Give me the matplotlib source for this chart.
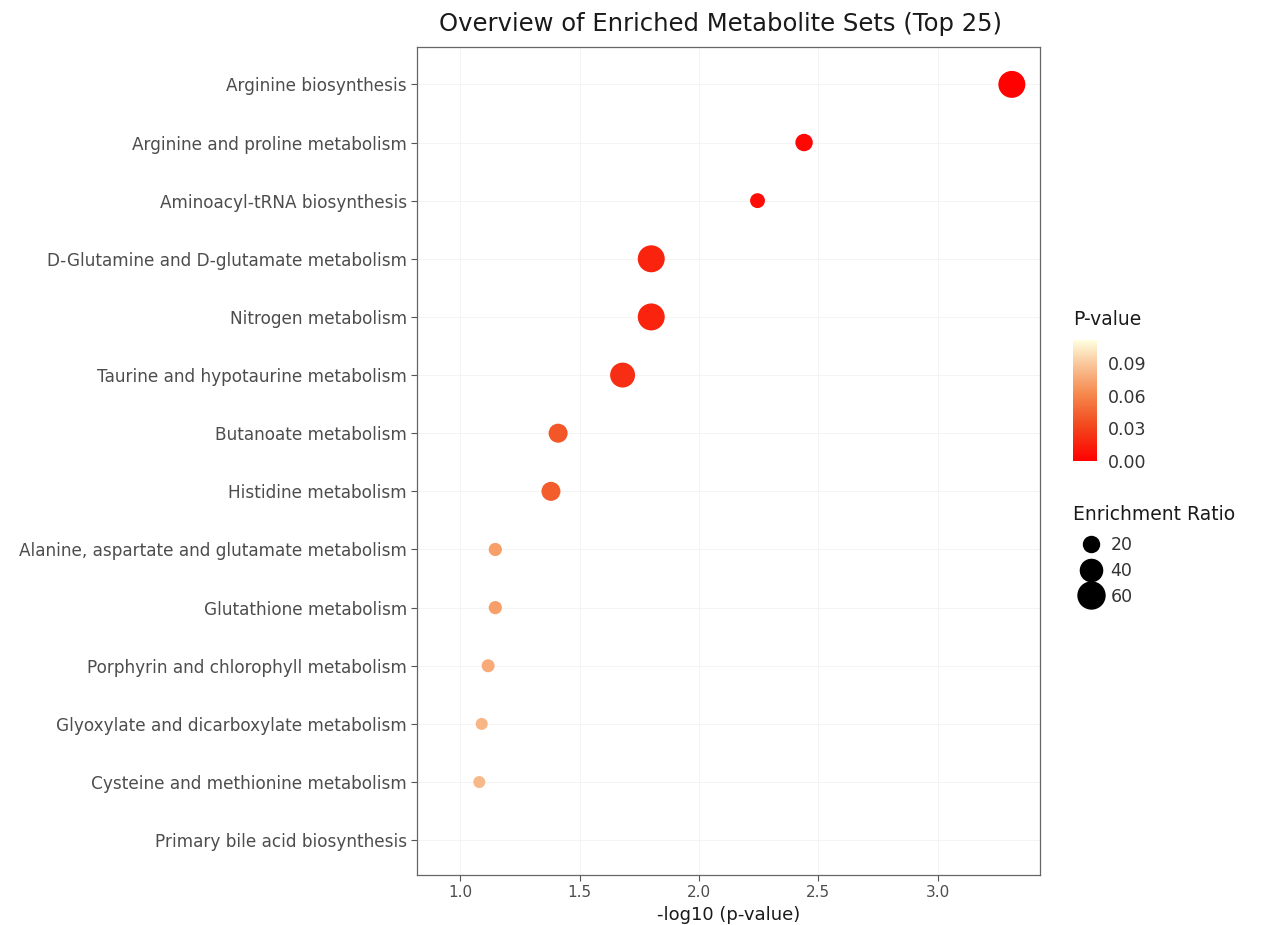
import numpy as np
import matplotlib
matplotlib.use("Agg")
import matplotlib.pyplot as plt
from matplotlib.colors import LinearSegmentedColormap, Normalize
from matplotlib.lines import Line2D

# pathways, top to bottom
pathways = [
    "Arginine biosynthesis",
    "Arginine and proline metabolism",
    "Aminoacyl-tRNA biosynthesis",
    "D-Glutamine and D-glutamate metabolism",
    "Nitrogen metabolism",
    "Taurine and hypotaurine metabolism",
    "Butanoate metabolism",
    "Histidine metabolism",
    "Alanine, aspartate and glutamate metabolism",
    "Glutathione metabolism",
    "Porphyrin and chlorophyll metabolism",
    "Glyoxylate and dicarboxylate metabolism",
    "Cysteine and methionine metabolism",
    "Primary bile acid biosynthesis",
]
# last row has no visible point in the original
neg_log_p = [3.31, 2.44, 2.245, 1.80, 1.80, 1.68, 1.41, 1.38,
             1.147, 1.147, 1.117, 1.09, 1.08, np.nan]
enrich_ratio = [60, 24, 17, 60, 60, 51, 29, 29, 13, 13, 12.6, 10.5, 10.5, np.nan]

pvals = 10 ** (-np.array(neg_log_p))
size_breaks = [20, 40, 60]
cbar_ticks = [0.00, 0.03, 0.06, 0.09]

def msize(v):
    return 11 + 6.1 * np.asarray(v, dtype=float)

cmap = LinearSegmentedColormap.from_list(
    "pv", [(0, "#FF0000"), (0.3, "#F24A1E"), (0.55, "#F6874C"),
           (0.8, "#F9C69A"), (1, "#FFFFE0")])
norm = Normalize(vmin=0, vmax=0.111)

fig = plt.figure(figsize=(12.72, 9.25), dpi=100)
ax = fig.add_axes([0.328, 0.054, 0.490, 0.895])

y = np.arange(len(pathways))
ax.scatter(neg_log_p, y, s=msize(enrich_ratio), c=pvals, cmap=cmap, norm=norm,
           edgecolors="none", zorder=3, plotnonfinite=False)

ax.set_ylim(13.6, -0.64)
ax.set_xlim(0.82, 3.43)
ax.set_yticks(y)
ax.set_yticklabels(pathways)
ax.set_xticks([1.0, 1.5, 2.0, 2.5, 3.0])
ax.set_xticklabels(["1.0", "1.5", "2.0", "2.5", "3.0"])
ax.tick_params(axis="both", colors="#555555", labelcolor="#4D4D4D",
               labelsize=11, length=4, width=0.8)
ax.tick_params(axis="y", labelsize=12.2)
ax.grid(True, color="#F2F2F2", lw=0.6, zorder=0)
for sp in ax.spines.values():
    sp.set_color("#666666")
    sp.set_linewidth(0.9)

ax.set_title("Overview of Enriched Metabolite Sets (Top 25)", fontsize=17.5,
             color="#1A1A1A", pad=12, x=0.486)
ax.set_xlabel("-log10 (p-value)", fontsize=13, color="#1A1A1A", labelpad=4)

# colour bar
cax = fig.add_axes([0.8436, 0.5016, 0.0189, 0.131])
sm = plt.cm.ScalarMappable(norm=norm, cmap=cmap)
cb = fig.colorbar(sm, cax=cax, ticks=cbar_ticks)
cb.outline.set_visible(False)
cb.ax.tick_params(length=0, labelsize=12.5, labelcolor="#333333", pad=8)
cb.ax.set_yticklabels(["0.00", "0.03", "0.06", "0.09"])
fig.text(0.8436, 0.655, "P-value", fontsize=13.5, color="#1A1A1A", va="center")

# size legend
fig.text(0.8436, 0.444, "Enrichment Ratio", fontsize=13.5, color="#1A1A1A", va="center")
handles = [Line2D([], [], ls="none", marker="o", color="black",
                  markersize=np.sqrt(msize(v))) for v in size_breaks]
leg = fig.legend(handles, [str(v) for v in size_breaks], loc="upper left",
                 bbox_to_anchor=(0.843, 0.43), frameon=False, fontsize=12.5,
                 handletextpad=0.5, labelspacing=0.45, borderpad=0,
                 handlelength=1.2)
for t in leg.get_texts():
    t.set_color("#333333")

fig.savefig("out.png", dpi=100, facecolor="white")
